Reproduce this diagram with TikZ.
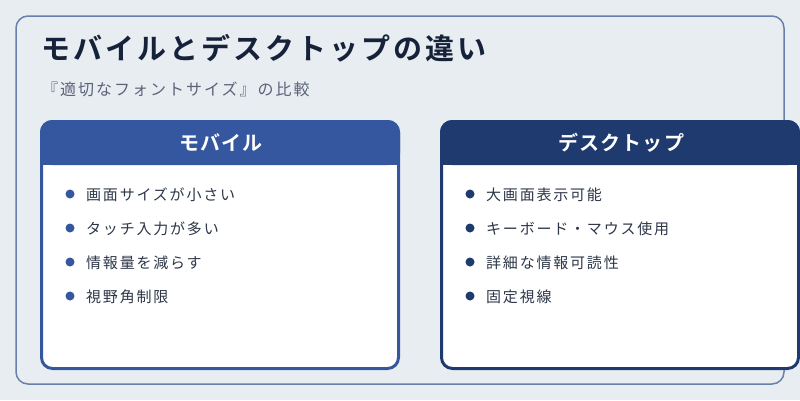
\documentclass[tikz,border=0pt]{standalone}
\usepackage{fontspec}
\setmainfont{Noto Sans CJK JP}
\newfontfamily\titlefont{Noto Sans CJK JP Bold}[LetterSpace=10.5]
\newfontfamily\headfont{Noto Sans CJK JP Bold}[LetterSpace=6]
\newfontfamily\subfont{Noto Sans CJK JP}[LetterSpace=12.5]
\newfontfamily\itemfont{Noto Sans CJK JP}[LetterSpace=12]
\definecolor{pagebg}{HTML}{E8EDF2}
\definecolor{panelline}{HTML}{6A80AA}
\definecolor{titlecol}{HTML}{16223A}
\definecolor{subcol}{HTML}{5A6478}
\definecolor{itemcol}{HTML}{2D3748}
\definecolor{mobileblue}{HTML}{3557A0}
\definecolor{deskblue}{HTML}{1F3A6E}
\tikzset{
	itemtext/.style={anchor=west, inner sep=0pt, text=itemcol, font=\itemfont\fontsize{15}{18}\selectfont},
	itemdot/.style={circle, inner sep=0pt, minimum size=9pt},
	headtext/.style={inner sep=0pt, text=white, font=\headfont\fontsize{20}{24}\selectfont}
}

\begin{document}
\begin{tikzpicture}[x=1pt,y=-1pt]
		\useasboundingbox (0,0) rectangle (800,400);
		\fill[pagebg] (0,0) rectangle (800,400);
		\draw[panelline, line width=1.5pt, rounded corners=12pt] (16,16) rectangle (784,384);
		\node[anchor=west, inner sep=0pt, text=titlecol, font=\titlefont\fontsize{29}{34}\selectfont] (title) at (41,48) {モバイルとデスクトップの違い};
		\node[anchor=west, inner sep=0pt, text=subcol, font=\subfont\fontsize{16}{20}\selectfont] (subtitle) at (42,89) {『適切なフォントサイズ』の比較};
		% mobile card
		\fill[white, rounded corners=12pt] (40,120) rectangle (400,370);
		\fill[mobileblue, rounded corners=12pt] (40,120) rectangle (400,165);
		\fill[mobileblue] (40,145) rectangle (400,165);
		\draw[mobileblue, line width=3pt, rounded corners=11pt] (41.5,121.5) rectangle (398.5,368.5);
		\node[headtext] (mobhead) at (221,143) {モバイル};
		\foreach \txt [count=\i] in {画面サイズが小さい, タッチ入力が多い, 情報量を減らす, 視野角制限} {
			\node[itemdot, fill=mobileblue] (mobdot\i) at (70,{194+34*(\i-1)}) {};
			\node[itemtext] (mobitem\i) at (86,{195+34*(\i-1)}) {\txt};
		}
		% desktop card
		\fill[white, rounded corners=12pt] (440,120) rectangle (800,370);
		\fill[deskblue, rounded corners=12pt] (440,120) rectangle (800,165);
		\fill[deskblue] (440,145) rectangle (800,165);
		\draw[deskblue, line width=3pt, rounded corners=11pt] (441.5,121.5) rectangle (798.5,368.5);
		\node[headtext] (deskhead) at (621,143) {デスクトップ};
		\foreach \txt [count=\i] in {大画面表示可能, キーボード・マウス使用, 詳細な情報可読性, 固定視線} {
			\node[itemdot, fill=deskblue] (deskdot\i) at (470,{194+34*(\i-1)}) {};
			\node[itemtext] (deskitem\i) at (486,{195+34*(\i-1)}) {\txt};
		}
	\end{tikzpicture}
\end{document}
